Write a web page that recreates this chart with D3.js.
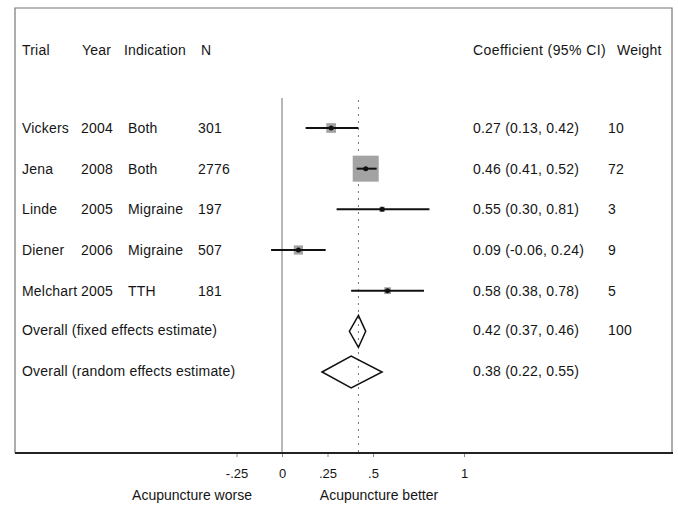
<!DOCTYPE html>
<html>
<head>
<meta charset="utf-8">
<script src="https://cdn.jsdelivr.net/npm/d3@7"></script>
<style>
  html, body { margin: 0; padding: 0; background: #fff; }
  svg text { font-family: "Liberation Sans", Arial, sans-serif; fill: #151515; }
</style>
</head>
<body>
<div id="chart"></div>
<script>
// Forest plot: acupuncture trials
const trials = ['Vickers', 'Jena', 'Linde', 'Diener', 'Melchart'];
const years = [2004, 2008, 2005, 2006, 2005];
const indications = ['Both', 'Both', 'Migraine', 'Migraine', 'TTH'];
const ns = [301, 2776, 197, 507, 181];
const coef = [0.27, 0.46, 0.55, 0.09, 0.58];
const lower = [0.13, 0.41, 0.30, -0.06, 0.38];
const upper = [0.42, 0.52, 0.81, 0.24, 0.78];
const weights = [10, 72, 3, 9, 5];

const overallLabels = ['Overall (fixed effects estimate)', 'Overall (random effects estimate)'];
const overallCoef = [0.42, 0.38];
const overallLower = [0.37, 0.22];
const overallUpper = [0.46, 0.55];
const overallWeight = ['100', ''];

const tickValues = [-0.25, 0, 0.25, 0.5, 1];
const tickLabels = ['-.25', '0', '.25', '.5', '1'];

const width = 678, height = 505;
const f2 = d3.formatLocale({ decimal: '.', thousands: ',', grouping: [3], currency: ['', ''], minus: '-' }).format('.2f');
const FS = 14, LS = 0.2;

const svg = d3.select('#chart').append('svg')
  .attr('width', width)
  .attr('height', height);

const x = d3.scaleLinear().domain([-0.25, 1]).range([236.5, 464]);
const y = d3.scaleLinear().domain([0, 6]).range([128, 372]);
const axisY = 453;

// Frame
svg.append('path')
  .attr('d', `M15,${axisY} V8 H672 V${axisY}`)
  .attr('fill', 'none')
  .attr('stroke', '#777')
  .attr('stroke-width', 1.2);

// Zero line and overall estimate line
svg.append('line')
  .attr('x1', x(0)).attr('x2', x(0))
  .attr('y1', 98).attr('y2', axisY)
  .attr('stroke', '#888').attr('stroke-width', 1.2);
svg.append('line')
  .attr('x1', x(overallCoef[0])).attr('x2', x(overallCoef[0]))
  .attr('y1', 100).attr('y2', axisY)
  .attr('stroke', '#777').attr('stroke-width', 1)
  .attr('stroke-dasharray', '2,5');

// Axis
const axis = d3.axisBottom(x)
  .tickValues(tickValues)
  .tickFormat((d, i) => tickLabels[i])
  .tickSize(4)
  .tickPadding(12);
const gAxis = svg.append('g')
  .attr('transform', `translate(0,${axisY})`)
  .call(axis);
gAxis.select('.domain').remove();
gAxis.selectAll('.tick line').attr('stroke', '#888');
gAxis.selectAll('.tick text').attr('font-size', 13).attr('fill', '#151515');
svg.append('line')
  .attr('x1', 15).attr('x2', 673)
  .attr('y1', axisY).attr('y2', axisY)
  .attr('stroke', '#222').attr('stroke-width', 2);

svg.append('text').attr('x', 192).attr('y', 500)
  .attr('text-anchor', 'middle').attr('font-size', 14)
  .text('Acupuncture worse');
svg.append('text').attr('x', 379).attr('y', 500)
  .attr('text-anchor', 'middle').attr('font-size', 14)
  .text('Acupuncture better');

// Header
const header = svg.append('g').attr('font-size', FS).attr('letter-spacing', LS);
header.append('text').attr('x', 22).attr('y', 55).text('Trial');
header.append('text').attr('x', 82).attr('y', 55).text('Year');
header.append('text').attr('x', 124).attr('y', 55).text('Indication');
header.append('text').attr('x', 201).attr('y', 55).text('N');
header.append('text').attr('x', 473).attr('y', 55).attr('letter-spacing', 0.4).text('Coefficient (95% CI)');
header.append('text').attr('x', 617).attr('y', 55).text('Weight');

// Study rows
const rows = svg.append('g')
  .selectAll('g')
  .data(trials.map((t, i) => ({ t, i })))
  .join('g')
  .attr('font-size', FS)
  .attr('letter-spacing', LS);

rows.append('text').attr('x', 22).attr('y', d => y(d.i) + 5).text(d => d.t);
rows.append('text').attr('x', 81).attr('y', d => y(d.i) + 5).text(d => years[d.i]);
rows.append('text').attr('x', 128).attr('y', d => y(d.i) + 5).text(d => indications[d.i]);
rows.append('text').attr('x', 198).attr('y', d => y(d.i) + 5).text(d => ns[d.i]);
rows.append('text').attr('x', 473).attr('y', d => y(d.i) + 5)
  .text(d => `${f2(coef[d.i])} (${f2(lower[d.i])}, ${f2(upper[d.i])})`);
rows.append('text').attr('x', 608).attr('y', d => y(d.i) + 5).text(d => weights[d.i]);

// Weight boxes (area proportional to weight)
const boxSize = d3.scaleSqrt().domain([0, 72]).range([0, 26]);
rows.append('rect')
  .attr('x', d => x(coef[d.i]) - boxSize(weights[d.i]) / 2)
  .attr('y', d => y(d.i) - boxSize(weights[d.i]) / 2)
  .attr('width', d => boxSize(weights[d.i]))
  .attr('height', d => boxSize(weights[d.i]))
  .attr('fill', '#a3a3a3');

// Confidence intervals
rows.append('line')
  .attr('x1', d => x(lower[d.i]))
  .attr('x2', d => x(upper[d.i]))
  .attr('y1', d => y(d.i)).attr('y2', d => y(d.i))
  .attr('stroke', '#111').attr('stroke-width', 2);
rows.append('circle')
  .attr('cx', d => x(coef[d.i]))
  .attr('cy', d => y(d.i))
  .attr('r', 2.5)
  .attr('fill', '#111');

// Overall diamonds
const ov = svg.append('g')
  .selectAll('g')
  .data(overallLabels.map((t, k) => ({ t, k, row: 5 + k })))
  .join('g')
  .attr('font-size', FS)
  .attr('letter-spacing', LS);

ov.append('text').attr('x', 22).attr('y', d => y(d.row) + 4).text(d => d.t);
ov.append('text').attr('x', 473).attr('y', d => y(d.row) + 4)
  .text(d => `${f2(overallCoef[d.k])} (${f2(overallLower[d.k])}, ${f2(overallUpper[d.k])})`);
ov.append('text').attr('x', 608).attr('y', d => y(d.row) + 4).text(d => overallWeight[d.k]);

ov.append('path')
  .attr('d', d => {
    const cy = y(d.row);
    return `M${x(overallLower[d.k])},${cy} L${x(overallCoef[d.k])},${cy - 16} L${x(overallUpper[d.k])},${cy} L${x(overallCoef[d.k])},${cy + 16} Z`;
  })
  .attr('fill', 'none')
  .attr('stroke', '#111')
  .attr('stroke-width', 1.5);
</script>
</body>
</html>
